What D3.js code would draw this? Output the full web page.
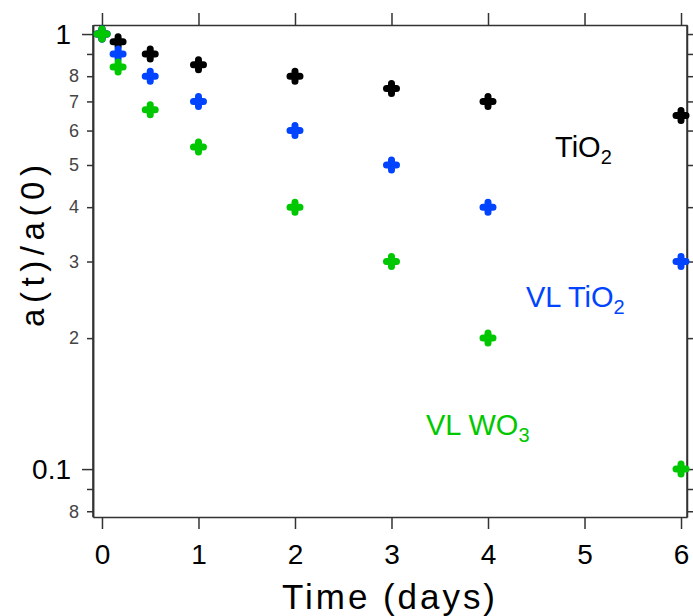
<!DOCTYPE html>
<html>
<head>
<meta charset="utf-8">
<script src="https://cdn.jsdelivr.net/npm/d3@7"></script>
<style>
  body { margin: 0; background: #fff; }
  svg { font-family: "Liberation Sans", Arial, sans-serif; }
</style>
</head>
<body>
<div id="chart"></div>
<script>
// decay of a(t)/a(0) over time
var days = [0, 0.167, 0.5, 1, 2, 3, 4, 6];
var tio2 = [1.0, 0.96, 0.90, 0.85, 0.80, 0.75, 0.70, 0.65];
var vlTio2 = [1.0, 0.90, 0.80, 0.70, 0.60, 0.50, 0.40, 0.30];
var vlWo3 = [1.0, 0.84, 0.67, 0.55, 0.40, 0.30, 0.20, 0.10];

var xTicks = [0, 1, 2, 3, 4, 5, 6];
var yMajor = [1, 0.1];
var yMinor = [0.9, 0.8, 0.7, 0.6, 0.5, 0.4, 0.3, 0.2, 0.09, 0.08];
var yMinorLabels = {0.8: '8', 0.7: '7', 0.6: '6', 0.5: '5', 0.4: '4', 0.3: '3', 0.2: '2', 0.08: '8'};

var series = [
    {name: 'TiO2', vals: tio2, color: '#000000', label: ['TiO', '2'], lx: 555, ly: 157},
    {name: 'VL TiO2', vals: vlTio2, color: '#0044ff', label: ['VL TiO', '2'], lx: 526, ly: 307},
    {name: 'VL WO3', vals: vlWo3, color: '#00c800', label: ['VL WO', '3'], lx: 426, ly: 435}
];

var width = 693, height = 616;
var mLeft = 93, mRight = 687, mTop = 25, mBottom = 517;

var svg = d3.select('#chart').append('svg')
    .attr('width', width)
    .attr('height', height);

var x = d3.scaleLinear().domain([-0.093, 6.062]).range([mLeft, mRight]);
var y = d3.scaleLog().domain([0.0776, 1.049]).range([mBottom, mTop]);

var axisColor = '#333';

// frame axes
var xb = svg.append('g')
    .attr('transform', 'translate(0,' + mBottom + ')')
    .call(d3.axisBottom(x).tickValues(xTicks).tickSize(12).tickPadding(15).tickSizeOuter(0).tickFormat(d3.format('d')));
var xt = svg.append('g')
    .attr('transform', 'translate(0,' + mTop + ')')
    .call(d3.axisTop(x).tickValues(xTicks).tickSize(12).tickSizeOuter(0).tickFormat(''));

var yl = svg.append('g')
    .attr('transform', 'translate(' + mLeft + ',0)')
    .call(d3.axisLeft(y).tickValues(yMajor).tickSize(11).tickPadding(11).tickSizeOuter(0)
        .tickFormat(function(d) { return d == 1 ? '1' : '0.1'; }));
var ylm = svg.append('g')
    .attr('transform', 'translate(' + mLeft + ',0)')
    .call(d3.axisLeft(y).tickValues(yMinor).tickSize(6).tickPadding(8).tickSizeOuter(0)
        .tickFormat(function(d) { return yMinorLabels[d] || ''; }));
var yr = svg.append('g')
    .attr('transform', 'translate(' + mRight + ',0)')
    .call(d3.axisRight(y).tickValues(yMajor.concat(yMinor)).tickSize(6).tickSizeOuter(0).tickFormat(''));

[xb, xt, yl, ylm, yr].forEach(function(g) {
    g.selectAll('.domain').attr('stroke', axisColor).attr('stroke-width', 1.5);
    g.selectAll('.tick line').attr('stroke', axisColor).attr('stroke-width', 1.5);
});

xb.selectAll('text').attr('font-size', 28).attr('fill', '#000');
yl.selectAll('text').attr('font-size', 28).attr('fill', '#000');
ylm.selectAll('text').attr('font-size', 18).attr('fill', '#444');

// close frame
svg.append('line').attr('x1', mLeft).attr('x2', mLeft).attr('y1', mTop).attr('y2', mBottom)
    .attr('stroke', axisColor).attr('stroke-width', 1.5);
svg.append('line').attr('x1', mRight).attr('x2', mRight).attr('y1', mTop).attr('y2', mBottom)
    .attr('stroke', axisColor).attr('stroke-width', 1.5);

// axis titles
svg.append('text')
    .attr('x', (282 + 495) / 2)
    .attr('y', 609)
    .attr('text-anchor', 'middle')
    .attr('font-size', 35)
    .attr('textLength', 213)
    .attr('lengthAdjust', 'spacing')
    .text('Time (days)');

svg.append('text')
    .attr('transform', 'translate(44,246) rotate(-90)')
    .attr('text-anchor', 'middle')
    .attr('font-size', 33)
    .attr('textLength', 162)
    .attr('lengthAdjust', 'spacing')
    .text('a(t)/a(0)');

// markers
series.forEach(function(s) {
    var pts = svg.append('g').selectAll('g')
        .data(s.vals)
        .enter()
        .append('g')
        .attr('transform', function(d, i) { return 'translate(' + x(days[i]) + ',' + y(d) + ')'; });
    pts.append('path')
        .attr('d', 'M-5,0H5M0,-5V5')
        .attr('stroke', s.color)
        .attr('stroke-width', 7)
        .attr('stroke-linecap', 'round')
        .attr('fill', 'none');

    var t = svg.append('text')
        .attr('x', s.lx)
        .attr('y', s.ly)
        .attr('font-size', 29)
        .attr('fill', s.color);
    t.append('tspan').text(s.label[0]);
    t.append('tspan').attr('dy', 7).attr('font-size', 20).text(s.label[1]);
});
</script>
</body>
</html>
